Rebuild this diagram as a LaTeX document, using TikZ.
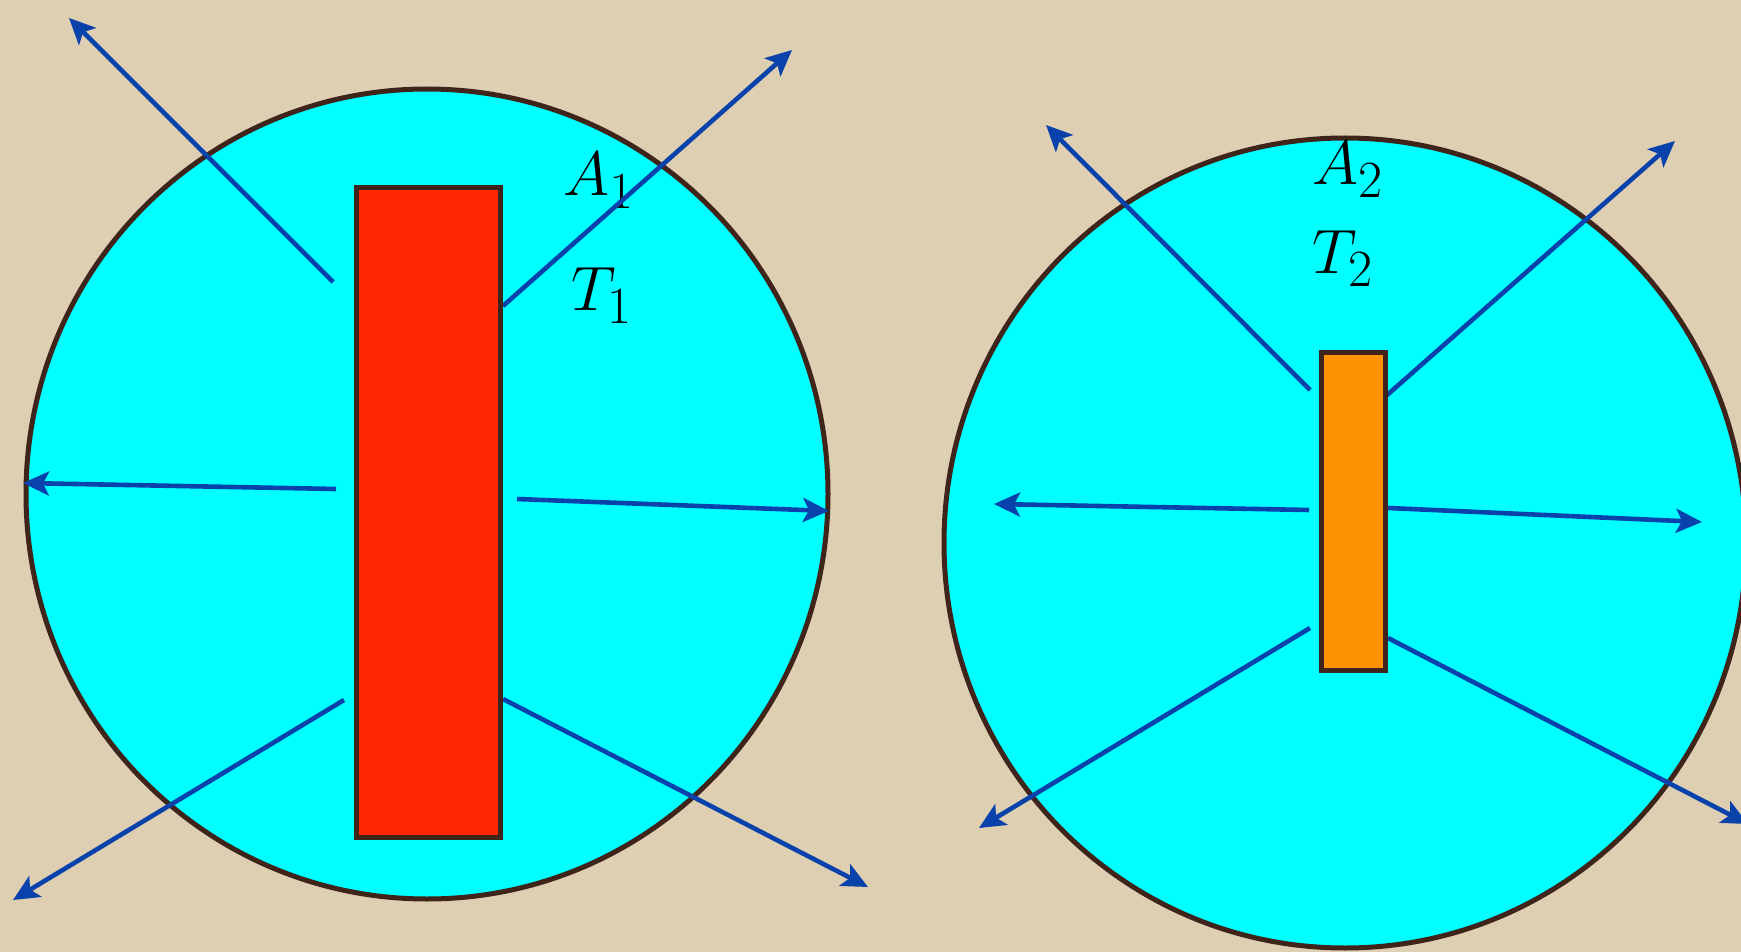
\documentclass[tikz,border=0pt]{standalone}
\usetikzlibrary{arrows.meta,shapes.geometric}
\definecolor{parch}{RGB}{223,207,178}
\definecolor{aqua}{RGB}{0,255,255}
\definecolor{rimbrown}{RGB}{62,36,26}
\definecolor{redbar}{RGB}{255,38,0}
\definecolor{orangebar}{RGB}{255,146,0}
\definecolor{raycol}{RGB}{8,66,170}
\newcommand{\biglab}[1]{\scalebox{1.26}{\Huge$#1$}}
\begin{document}
\begin{tikzpicture}[x=0.5pt,y=-0.5pt,
  disc/.style={ellipse,fill=aqua,draw=rimbrown,line width=2.5pt,inner sep=0pt,outer sep=0pt,
               minimum width=401pt,minimum height=405pt},
  bar/.style={rectangle,draw=rimbrown,line width=2.5pt,inner sep=0pt,outer sep=0pt},
  ray/.style={draw=raycol,line width=2.3pt,-{Stealth[length=13pt,width=12pt,inset=3pt]}},
  lab/.style={inner sep=0pt,anchor=base west}]
% background
\fill[parch] (0,0) rectangle (1741,952);
\useasboundingbox (0,0) rectangle (1741,952);
% discs
\node[disc] (c1) at (427,494) {};
\node[disc] (c2) at (1345,543) {};
% labels
\node[lab] (A1) at (563,196) {\biglab{A_1}};
\node[lab] (T1) at (571,311) {\biglab{T_1}};
\node[lab] (A2) at (1312,185) {\biglab{A_2}};
\node[lab] (T2) at (1312,274) {\biglab{T_2}};
% ray coordinates, left
\coordinate (a1s) at (333,282);  \coordinate (a1e) at (69,18);
\coordinate (a2s) at (503,306);  \coordinate (a2e) at (792,50);
\coordinate (a3s) at (336,489);  \coordinate (a3e) at (23,483);
\coordinate (a4s) at (517,499);  \coordinate (a4e) at (829,511);
\coordinate (a5s) at (344,700);  \coordinate (a5e) at (13,900);
\coordinate (a6s) at (503,699);  \coordinate (a6e) at (868,887);
% ray coordinates, right
\coordinate (b1s) at (1310,390); \coordinate (b1e) at (1046,125);
\coordinate (b2s) at (1386,396); \coordinate (b2e) at (1675,141);
\coordinate (b3s) at (1309,510); \coordinate (b3e) at (994,504);
\coordinate (b4s) at (1388,508); \coordinate (b4e) at (1702,522);
\coordinate (b5s) at (1310,628); \coordinate (b5e) at (979,828);
\coordinate (b6s) at (1388,638); \coordinate (b6e) at (1748,824);
\foreach \r in {a1,a2,a3,a4,a5,a6,b1,b2,b3,b4,b5,b6}
  \draw[ray] (\r s) -- (\r e);
% bars
\node[bar,fill=redbar,minimum width=72pt,minimum height=325pt] (r1) at (428.5,512.5) {};
\node[bar,fill=orangebar,minimum width=32pt,minimum height=159pt] (r2) at (1353.5,511.5) {};
\end{tikzpicture}
\end{document}
